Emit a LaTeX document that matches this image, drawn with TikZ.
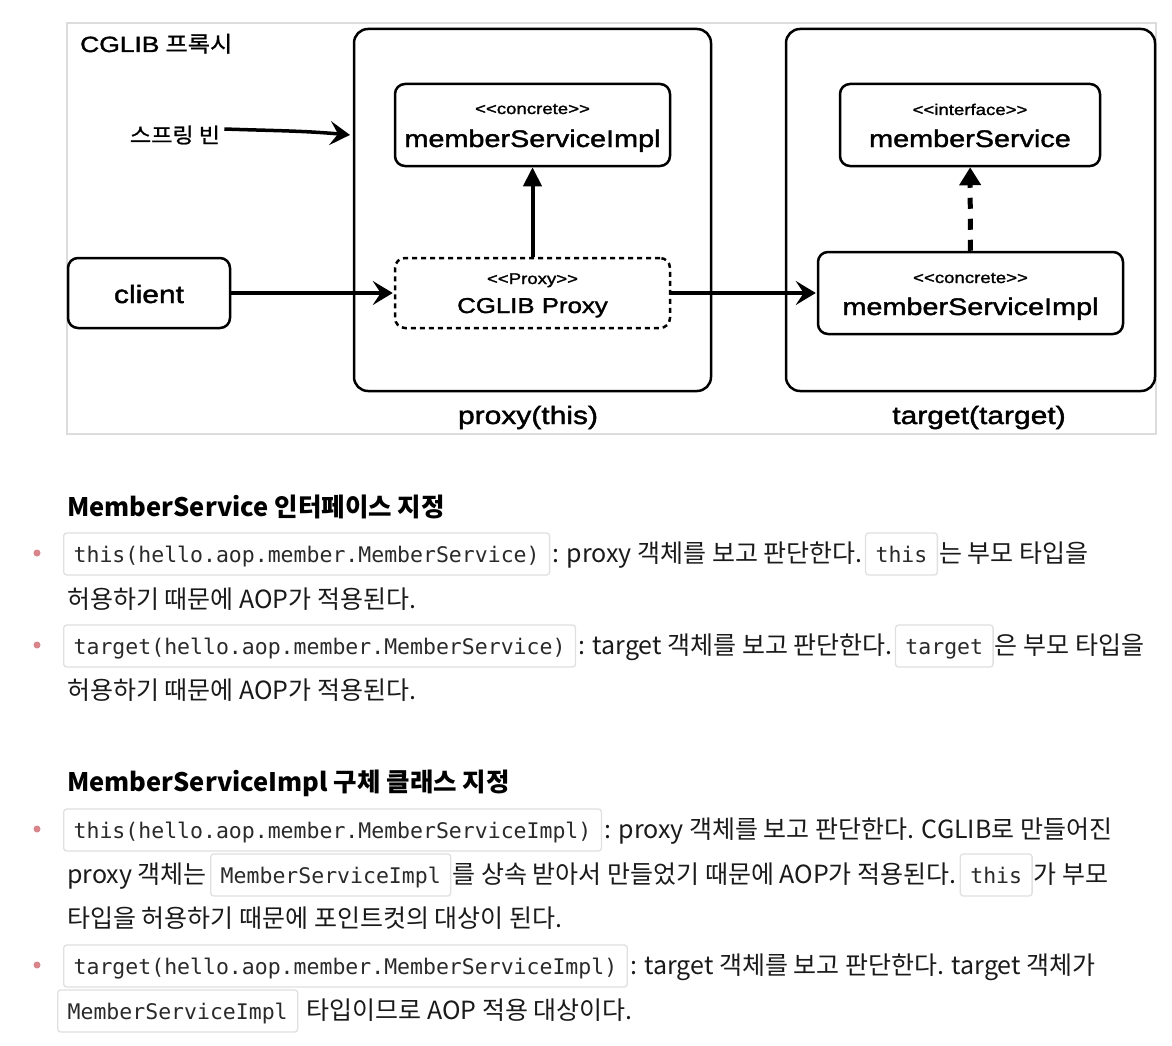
\documentclass[tikz,border=0pt]{standalone}
\usepackage{fontspec}
\setmainfont{Liberation Sans}
\newfontfamily\dg[FakeStretch=1.2,FakeBold=1.6]{Liberation Sans}
\newfontfamily\krw[FakeStretch=1.1,FakeBold=1.0]{Noto Sans CJK KR}
\newfontfamily\kr{Noto Sans CJK KR}
\newfontfamily\cd{DejaVu Sans Mono}
\usetikzlibrary{arrows.meta}
\definecolor{framegray}{HTML}{DCDCDC}
\definecolor{codeborder}{HTML}{E0E0E0}
\definecolor{bulletred}{HTML}{D8868B}
\definecolor{codetext}{HTML}{2A2A2A}
\definecolor{bodytext}{HTML}{1A1A1A}
\newcommand\dlt{<\kern0pt<}
\newcommand\dgt{>\kern0pt>}
\begin{document}
\begin{tikzpicture}[x=1pt,y=-1pt,
  container/.style={draw, line width=2.5pt, rounded corners=14pt, inner sep=0pt},
  umlbox/.style={draw, line width=2.5pt, rounded corners=10pt, fill=white, inner sep=0pt},
  proxybox/.style={umlbox, dash pattern=on 5pt off 4pt},
  stereo/.style={font=\dg\fontsize{15.5}{18}\selectfont, inner sep=0pt, anchor=base},
  cname/.style={font=\dg\fontsize{24}{28}\selectfont, inner sep=0pt, anchor=base},
  plabel/.style={font=\dg\fontsize{25}{30}\selectfont, inner sep=0pt, anchor=base},
  sketch/.style={line width=3.5pt, -{Stealth[length=20pt,width=24pt,inset=8pt]}, shorten >=1pt},
  solidarr/.style={line width=4pt, -{Triangle[length=19pt,width=18pt]}},
  dasharr/.style={line width=5pt, dash pattern=on 11pt off 10pt, -{Triangle[length=18pt,width=21pt]}},
  body/.style={font=\kr\fontsize{25}{30}\selectfont, text=bodytext, inner sep=0pt, anchor=base west},
  head/.style={font=\kr\bfseries\fontsize{25.5}{30}\selectfont, text=black, inner sep=0pt, anchor=base west},
  code/.style={draw=codeborder, line width=1.3pt, rounded corners=3pt, fill=white,
    font=\cd\fontsize{21.5}{26}\selectfont, text=codetext, inner xsep=10pt, inner ysep=0pt,
    text height=21pt, text depth=5pt, minimum height=42pt, anchor=base west},
  bullet/.style={circle, fill=bulletred, inner sep=0pt, minimum size=7pt}
]
\useasboundingbox (0,0) rectangle (1172,1046);
\fill[white] (0,0) rectangle (1172,1046);

% ---------- diagram ----------
\node[draw=framegray, line width=2pt, minimum width=1089pt, minimum height=411pt, inner sep=0pt] (frame) at (611.5,228.5) {};
\node[font=\fontsize{22}{24}\selectfont, inner sep=0pt, anchor=base west] (ttl) at (80,52) {{\dg CGLIB} {\krw 프록시}};

\node[container, minimum width=357pt, minimum height=362pt] (pc) at (532.5,210) {};
\node[container, minimum width=369pt, minimum height=362pt] (tc) at (970.5,210) {};
\node[plabel] (pcl) at (528,424) {proxy(this)};
\node[plabel] (tcl) at (979,424) {target(target)};

\node[umlbox, minimum width=275pt, minimum height=82pt] (msi) at (532.5,125) {};
\node[stereo] (msis) at (532.5,114) {\dlt concrete\dgt};
\node[cname] (msin) at (532.5,147) {memberServiceImpl};

\node[proxybox, minimum width=275pt, minimum height=70pt] (cp) at (532.5,293) {};
\node[stereo] (cps) at (532.5,284) {\dlt Proxy\dgt};
\node[cname, font=\dg\fontsize{21.5}{26}\selectfont] (cpn) at (532.5,313) {CGLIB Proxy};

\node[umlbox, minimum width=162pt, minimum height=70pt] (cl) at (149,293) {};
\node[cname, font=\dg\fontsize{25}{30}\selectfont] (cln) at (149,303) {client};

\node[umlbox, minimum width=260pt, minimum height=82pt] (ms) at (970,125) {};
\node[stereo] (mss) at (970,115) {\dlt interface\dgt};
\node[cname] (msn) at (970,147) {memberService};

\node[umlbox, minimum width=305pt, minimum height=82pt] (tmi) at (970.5,293) {};
\node[stereo] (tmis) at (970.5,283) {\dlt concrete\dgt};
\node[cname] (tmin) at (970.5,315) {memberServiceImpl};

\node[font=\krw\fontsize{21}{24}\selectfont, inner sep=0pt] (sb) at (175,135) {스프링 빈};
\coordinate (pin) at (351,135);

\draw[sketch] ([xshift=4pt,yshift=6pt]sb.east) to[out=-2,in=175] (pin);
\draw[sketch] (cl) -- (cp);
\draw[sketch] (cp) -- (tmi);
\draw[solidarr] (cp) -- (msi);
\draw[dasharr] (tmi) -- (ms);

% ---------- text ----------
\node[head] (h1) at (67,516) {MemberService 인터페이스 지정};

\node[bullet] (b1) at (37,553) {};
\node[code] (c1) at (63,562) {this(hello.aop.member.MemberService)};
\node[body] (t1) at ([xshift=2pt]c1.base east) {: proxy 객체를 보고 판단한다.};
\node[code] (c2) at ([xshift=2pt]t1.base east) {this};
\node[body] (t2) at ([xshift=1pt]c2.base east) {는 부모 타입을};
\node[body] (t3) at (67,608) {허용하기 때문에 AOP가 적용된다.};

\node[bullet] (b2) at (37,645) {};
\node[code] (c3) at (63,654) {target(hello.aop.member.MemberService)};
\node[body] (t4) at ([xshift=2pt]c3.base east) {: target 객체를 보고 판단한다.};
\node[code] (c4) at ([xshift=2pt]t4.base east) {target};
\node[body] (t5) at ([xshift=1pt]c4.base east) {은 부모 타입을};
\node[body] (t6) at (67,699) {허용하기 때문에 AOP가 적용된다.};

\node[head] (h2) at (67,791) {MemberServiceImpl 구체 클래스 지정};

\node[bullet] (b3) at (37,829) {};
\node[code] (c5) at (63,838) {this(hello.aop.member.MemberServiceImpl)};
\node[body] (t7) at ([xshift=2pt]c5.base east) {: proxy 객체를 보고 판단한다. CGLIB로 만들어진};
\node[body] (t8) at (67,883) {proxy 객체는};
\node[code] (c6) at ([xshift=3pt]t8.base east) {MemberServiceImpl};
\node[body] (t9) at ([xshift=1pt]c6.base east) {를 상속 받아서 만들었기 때문에 AOP가 적용된다.};
\node[code] (c7) at ([xshift=3pt]t9.base east) {this};
\node[body] (t10) at ([xshift=1pt]c7.base east) {가 부모};
\node[body] (t11) at (67,927) {타입을 허용하기 때문에 포인트컷의 대상이 된다.};

\node[bullet] (b4) at (37,965) {};
\node[code] (c8) at (63,974) {target(hello.aop.member.MemberServiceImpl)};
\node[body] (t12) at ([xshift=2pt]c8.base east) {: target 객체를 보고 판단한다. target 객체가};
\node[code] (c9) at (57,1019) {MemberServiceImpl};
\node[body] (t13) at ([xshift=8pt]c9.base east) {타입이므로 AOP 적용 대상이다.};
\end{tikzpicture}
\end{document}
